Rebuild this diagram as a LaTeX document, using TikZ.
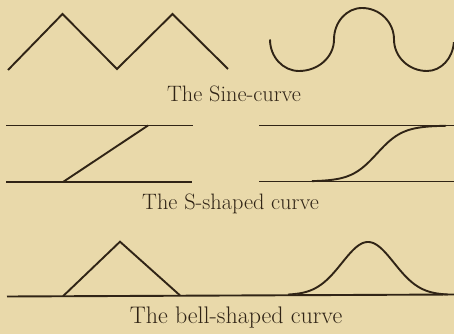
\documentclass[tikz,border=0pt]{standalone}
\usepackage{fontspec}
\definecolor{paper}{RGB}{233,217,170}
\definecolor{ink}{RGB}{48,36,22}
\tikzset{
  curve/.style={draw=ink, line width=1.9pt, line join=miter},
  caption/.style={text=ink, inner sep=0pt, anchor=base, font=\fontsize{22.3}{26}\selectfont\addfontfeatures{FakeBold=0.5}},
  bigcaption/.style={caption, font=\fontsize{24}{28}\selectfont\addfontfeatures{FakeBold=0.7}}
}
\begin{document}
\begin{tikzpicture}[x=1pt,y=1pt]
\fill[paper] (0,0) rectangle (454,334);
\useasboundingbox (0,0) rectangle (454,334);
% --- sine row ---
\draw[curve] (8,264) -- (62.5,320) -- (117,265) -- (172.5,320) -- (228,265);
\draw[curve] (270,294.5)
  arc[start angle=180, end angle=270, x radius=29pt, y radius=31.5pt]
  arc[start angle=270, end angle=360, x radius=35pt, y radius=31.5pt]
  arc[start angle=180, end angle=90, x radius=28pt, y radius=31.5pt]
  arc[start angle=90, end angle=0, x radius=32pt, y radius=31.5pt]
  arc[start angle=180, end angle=270, x radius=33pt, y radius=31.5pt]
  arc[start angle=270, end angle=355, x radius=27pt, y radius=31.5pt];
\node[caption] (sine) at (234,232.3) {The Sine-curve};
% --- S row ---
\draw[curve] (6,208.5) -- (193,208.5);
\draw[curve] (6,152) -- (192,152);
\draw[curve] (148,208.5) -- (63,152);
\draw[curve] (259,208.5) -- (454,208.5);
\draw[curve] (259,152.5) -- (454,152.5);
\draw[curve] plot[domain=312:446, samples=90] (\x,{152.5+56/(1+exp(-(\x-377)/13))});
\node[caption] (sshape) at (230.5,124) {The S-shaped curve};
% --- bell row ---
\draw[curve] (7,37.5) -- (454,39.5);
\draw[curve] (63,37.8) -- (120,92.3) -- (180,38.6);
\draw[curve] plot[domain=288:448, samples=100] (\x,{39+53*exp(-((\x-368)^2)/1352)});
\node[bigcaption] (bell) at (236,10.7) {The bell-shaped curve};
\end{tikzpicture}
\end{document}
